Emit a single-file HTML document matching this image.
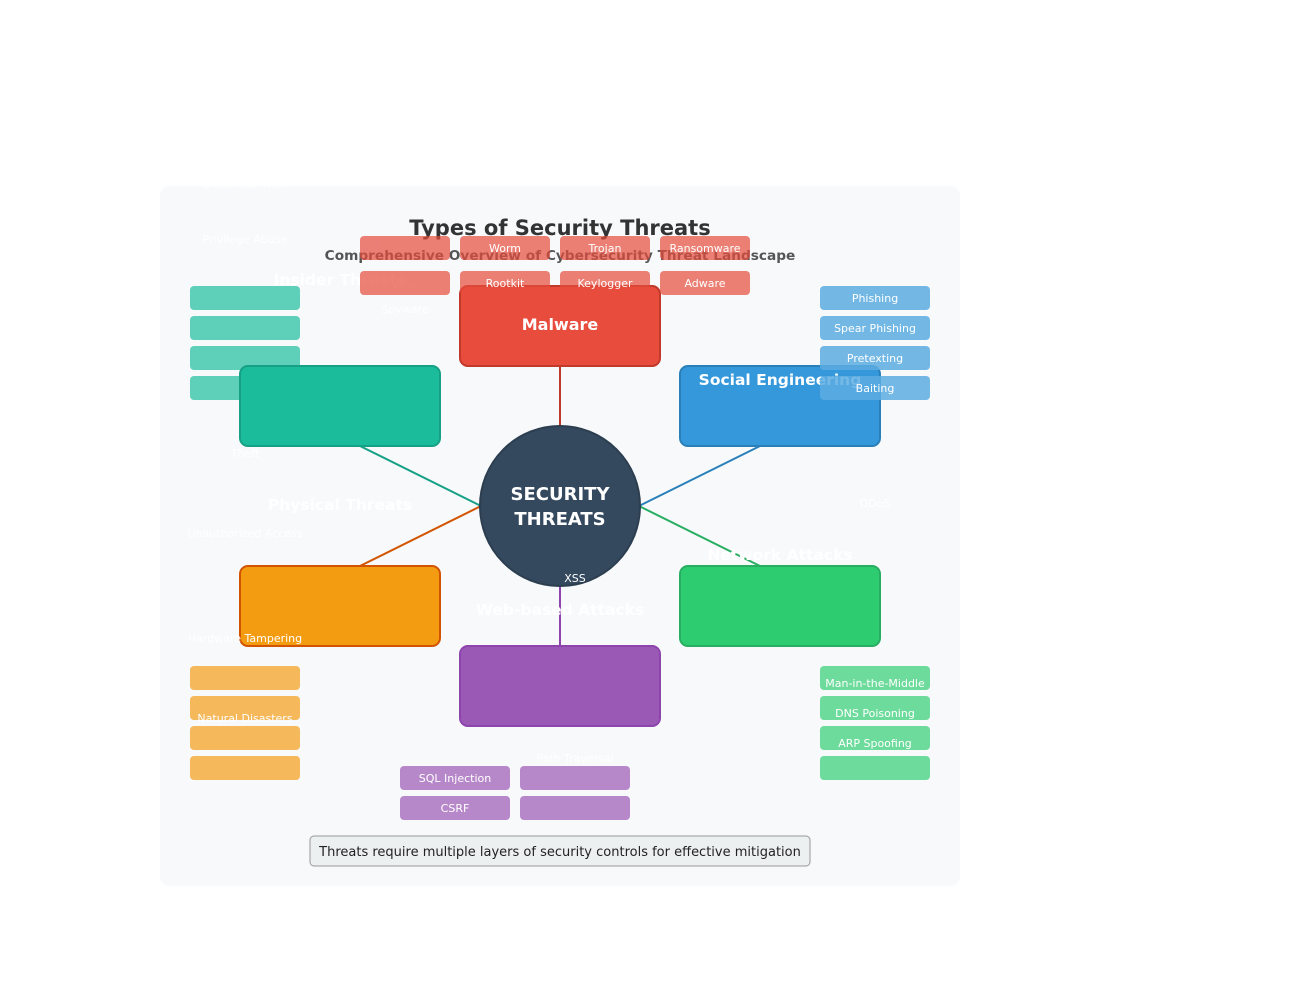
<!DOCTYPE html>
<html><head><meta charset="utf-8"><style>
html,body{margin:0;padding:0;background:#fff;}
svg{display:block;font-family:"DejaVu Sans","Liberation Sans",sans-serif;}
</style></head><body>
<svg width="1290" height="1000" viewBox="0 0 1290 1000" xmlns="http://www.w3.org/2000/svg">
<rect x="160" y="186" width="800" height="700" rx="10" fill="#f7f9fb"/>
<text x="245" y="188" font-size="11" fill="#fff" text-anchor="middle">Credential Theft</text>
<text x="245" y="243" font-size="11" fill="#fff" text-anchor="middle">Privilege Abuse</text>

<g stroke-width="2" fill="none">
<line x1="560" y1="366" x2="560" y2="426" stroke="#c0392b"/>
<line x1="360" y1="446" x2="481" y2="506" stroke="#16a085"/>
<line x1="760" y1="446" x2="639" y2="506" stroke="#2980b9"/>
<line x1="360" y1="566" x2="481" y2="506" stroke="#d35400"/>
<line x1="760" y1="566" x2="639" y2="506" stroke="#27ae60"/>
<line x1="560" y1="586" x2="560" y2="646" stroke="#8e44ad"/>
</g>

<g fill="#5ecfb8">
<rect x="190" y="286" width="110" height="24" rx="4"/>
<rect x="190" y="316" width="110" height="24" rx="4"/>
<rect x="190" y="346" width="110" height="24" rx="4"/>
<rect x="190" y="376" width="110" height="24" rx="4"/>
</g>

<rect x="460" y="286" width="200" height="80" rx="8" fill="#e74c3c" stroke="#c0392b" stroke-width="2"/>
<rect x="240" y="366" width="200" height="80" rx="8" fill="#1abc9c" stroke="#16a085" stroke-width="2"/>
<rect x="680" y="366" width="200" height="80" rx="8" fill="#3498db" stroke="#2980b9" stroke-width="2"/>
<rect x="240" y="566" width="200" height="80" rx="8" fill="#f39c12" stroke="#d35400" stroke-width="2"/>
<rect x="680" y="566" width="200" height="80" rx="8" fill="#2ecc71" stroke="#27ae60" stroke-width="2"/>
<rect x="460" y="646" width="200" height="80" rx="8" fill="#9b59b6" stroke="#8e44ad" stroke-width="2"/>
<circle cx="560" cy="506" r="80" fill="#34495e" stroke="#2c3e50" stroke-width="2"/>

<text x="560" y="330" font-size="16" font-weight="bold" fill="#fff" text-anchor="middle">Malware</text>
<text x="780" y="385" font-size="15.5" font-weight="bold" fill="#fff" text-anchor="middle">Social Engineering</text>
<text x="560" y="500" font-size="18" font-weight="bold" fill="#fff" text-anchor="middle">SECURITY</text>
<text x="560" y="525" font-size="18" font-weight="bold" fill="#fff" text-anchor="middle">THREATS</text>

<g font-size="15.5" font-weight="bold" fill="#fff" text-anchor="middle">
<text x="340" y="285">Insider Threats</text>
<text x="340" y="510">Physical Threats</text>
<text x="780" y="560">Network Attacks</text>
<text x="560" y="615">Web-based Attacks</text>
</g>
<text x="405" y="288" font-size="11" fill="#fff" text-anchor="middle">Virus</text>

<text x="560" y="235" font-size="21" font-weight="bold" fill="#333" text-anchor="middle">Types of Security Threats</text>
<text x="560" y="260" font-size="13.7" font-weight="bold" fill="#555" text-anchor="middle">Comprehensive Overview of Cybersecurity Threat Landscape</text>

<g fill="#e74c3c" opacity="0.7">
<rect x="360" y="236" width="90" height="24" rx="4"/><rect x="460" y="236" width="90" height="24" rx="4"/>
<rect x="560" y="236" width="90" height="24" rx="4"/><rect x="660" y="236" width="90" height="24" rx="4"/>
<rect x="360" y="271" width="90" height="24" rx="4"/><rect x="460" y="271" width="90" height="24" rx="4"/>
<rect x="560" y="271" width="90" height="24" rx="4"/><rect x="660" y="271" width="90" height="24" rx="4"/>
</g>
<g fill="#5dade2" opacity="0.85">
<rect x="820" y="286" width="110" height="24" rx="4"/><rect x="820" y="316" width="110" height="24" rx="4"/>
<rect x="820" y="346" width="110" height="24" rx="4"/><rect x="820" y="376" width="110" height="24" rx="4"/>
</g>
<g fill="#f5b95b">
<rect x="190" y="666" width="110" height="24" rx="4"/><rect x="190" y="696" width="110" height="24" rx="4"/>
<rect x="190" y="726" width="110" height="24" rx="4"/><rect x="190" y="756" width="110" height="24" rx="4"/>
</g>
<g fill="#6ddb9b">
<rect x="820" y="666" width="110" height="24" rx="4"/><rect x="820" y="696" width="110" height="24" rx="4"/>
<rect x="820" y="726" width="110" height="24" rx="4"/><rect x="820" y="756" width="110" height="24" rx="4"/>
</g>
<g fill="#b788c9">
<rect x="400" y="766" width="110" height="24" rx="4"/><rect x="520" y="766" width="110" height="24" rx="4"/>
<rect x="400" y="796" width="110" height="24" rx="4"/><rect x="520" y="796" width="110" height="24" rx="4"/>
</g>

<g font-size="11" fill="#fff" text-anchor="middle">
<text x="505" y="252">Worm</text><text x="605" y="252">Trojan</text><text x="705" y="252">Ransomware</text>
<text x="505" y="287">Rootkit</text><text x="605" y="287">Keylogger</text><text x="705" y="287">Adware</text>
<text x="405" y="313">Spyware</text>
<text x="875" y="302">Phishing</text><text x="875" y="332">Spear Phishing</text>
<text x="875" y="362">Pretexting</text><text x="875" y="392">Baiting</text>
<text x="245" y="457">Theft</text>
<text x="245" y="537">Unauthorized Access</text>
<text x="245" y="642">Hardware Tampering</text>
<text x="245" y="722">Natural Disasters</text>
<text x="875" y="507">DDoS</text>
<text x="875" y="687">Man-in-the-Middle</text><text x="875" y="717">DNS Poisoning</text>
<text x="875" y="747">ARP Spoofing</text>
<text x="575" y="582">XSS</text>
<text x="575" y="762">Path Traversal</text>
<text x="455" y="782">SQL Injection</text><text x="455" y="812">CSRF</text>
</g>

<rect x="310" y="836" width="500" height="30" rx="4" fill="#ecf0f1" stroke="#999" stroke-width="1"/>
<text x="560" y="856" font-size="13" fill="#222" text-anchor="middle">Threats require multiple layers of security controls for effective mitigation</text>
</svg>
</body></html>
